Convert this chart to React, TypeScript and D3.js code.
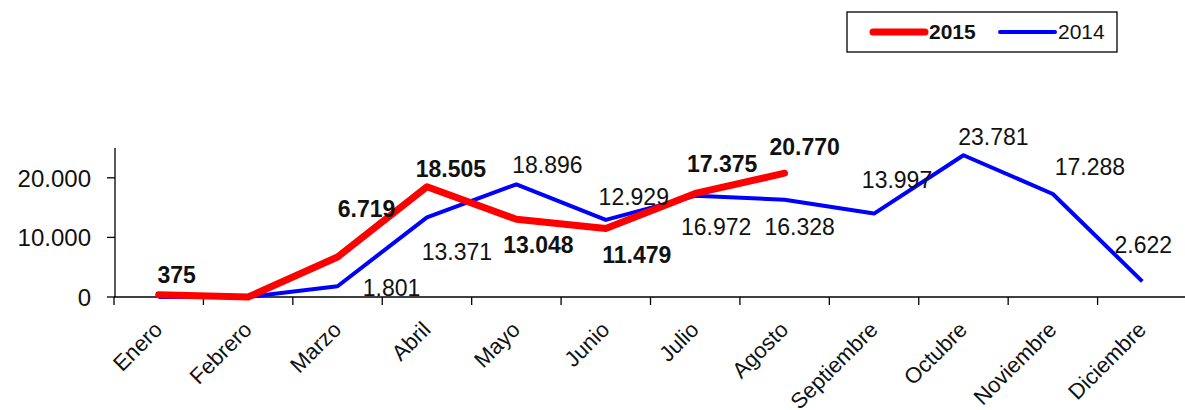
import React, { useEffect, useRef } from 'react';
import * as d3 from 'd3';

const months = ['Enero', 'Febrero', 'Marzo', 'Abril', 'Mayo', 'Junio', 'Julio', 'Agosto', 'Septiembre', 'Octubre', 'Noviembre', 'Diciembre'];
const values2015 = [375, 0, 6719, 18505, 13048, 11479, 17375, 20770];
const values2014 = [0, 0, 1801, 13371, 18896, 12929, 16972, 16328, 13997, 23781, 17288, 2622];
const yTicks = [0, 10000, 20000];

// label offsets from the point (label centre x, baseline y); null = no label
const offsets2015: ([number, number] | null)[] = [[18, -12], null, [29, -40], [24, -10], [22, 34], [31, 34], [27, -21], [20, -18]];
const offsets2014: ([number, number] | null)[] = [null, null, [54, 10], [30, 43], [31, -11], [28, -15], [21, 39], [15, 35], [23, -26], [30, -10], [37, -19], [1, -28]];

const WIDTH = 1185;
const HEIGHT = 410;
const FONT = '"Liberation Sans", Arial, sans-serif';

export default function App() {
  const svgRef = useRef<SVGSVGElement>(null);

  useEffect(() => {
    if (!svgRef.current) return;
    const svg = d3.select(svgRef.current);
    svg.selectAll('*').remove();

    const locale = d3.formatLocale({ decimal: ',', thousands: '.', grouping: [3], currency: ['', '€'] });
    const fmt = locale.format(',.0f');

    const x = d3.scaleBand<string>().domain(months).range([114, 1187]);
    const y = d3.scaleLinear().domain([0, 25000]).range([297, 148]);
    const cx = (i: number) => (x(months[i]) || 0) + x.bandwidth() / 2;

    // y axis
    const yAxis = svg.append('g').attr('transform', 'translate(115,0)');
    yAxis.append('line').attr('y1', y(25000)).attr('y2', y(0)).attr('stroke', '#000').attr('stroke-width', 1.3);
    yTicks.forEach(t => {
      yAxis.append('line').attr('x1', -8).attr('x2', 0).attr('y1', y(t)).attr('y2', y(t)).attr('stroke', '#000').attr('stroke-width', 1.3);
      yAxis.append('text')
        .attr('x', -24)
        .attr('y', y(t) + 9)
        .attr('text-anchor', 'end')
        .style('font-family', FONT)
        .style('font-size', '24px')
        .attr('fill', '#111')
        .text(fmt(t));
    });

    // x axis
    const xAxis = svg.append('g');
    xAxis.append('line').attr('x1', 114).attr('x2', WIDTH).attr('y1', y(0)).attr('y2', y(0)).attr('stroke', '#000').attr('stroke-width', 1.3);
    months.forEach((m, i) => {
      const left = x(m) || 0;
      xAxis.append('line').attr('x1', left).attr('x2', left).attr('y1', y(0)).attr('y2', y(0) + 8).attr('stroke', '#000').attr('stroke-width', 1.3);
      xAxis.append('text')
        .attr('transform', `translate(${cx(i) + 5},${331}) rotate(-45)`)
        .attr('text-anchor', 'end')
        .style('font-family', FONT)
        .style('font-size', '22px')
        .attr('fill', '#111')
        .text(m);
    });

    const line = d3.line<number>()
      .x((_, i) => cx(i))
      .y(d => y(d));

    svg.append('path')
      .datum(values2014)
      .attr('d', line)
      .attr('fill', 'none')
      .attr('stroke', '#0000FF')
      .attr('stroke-width', 4)
      .attr('stroke-linejoin', 'round');

    svg.append('path')
      .datum(values2015)
      .attr('d', line)
      .attr('fill', 'none')
      .attr('stroke', '#FF0000')
      .attr('stroke-width', 7)
      .attr('stroke-linejoin', 'round')
      .attr('stroke-linecap', 'round');

    // data labels
    const addLabels = (vals: number[], offs: ([number, number] | null)[], bold: boolean) => {
      vals.forEach((v, i) => {
        const o = offs[i];
        if (!o) return;
        svg.append('text')
          .attr('x', cx(i) + o[0])
          .attr('y', y(v) + o[1])
          .attr('text-anchor', 'middle')
          .style('font-family', FONT)
          .style('font-size', '23px')
          .style('font-weight', bold ? 'bold' : 'normal')
          .attr('fill', '#111')
          .text(fmt(v));
      });
    };
    addLabels(values2014, offsets2014, false);
    addLabels(values2015, offsets2015, true);

    // legend
    const legend = svg.append('g');
    legend.append('rect')
      .attr('x', 847).attr('y', 12).attr('width', 270).attr('height', 40)
      .attr('fill', '#fff').attr('stroke', '#000').attr('stroke-width', 1.3);
    legend.append('line').attr('x1', 873).attr('x2', 925).attr('y1', 32).attr('y2', 32)
      .attr('stroke', '#FF0000').attr('stroke-width', 7).attr('stroke-linecap', 'round');
    legend.append('text').attr('x', 929).attr('y', 39)
      .style('font-family', FONT).style('font-size', '21px').style('font-weight', 'bold').attr('fill', '#111').text('2015');
    legend.append('line').attr('x1', 1000).attr('x2', 1055).attr('y1', 32).attr('y2', 32)
      .attr('stroke', '#0000FF').attr('stroke-width', 4).attr('stroke-linecap', 'round');
    legend.append('text').attr('x', 1058).attr('y', 39)
      .style('font-family', FONT).style('font-size', '21px').attr('fill', '#111').text('2014');
  }, []);

  return (
    <svg
      ref={svgRef}
      width={WIDTH}
      height={HEIGHT}
      style={{ position: 'absolute', left: 0, top: 0, background: '#fff', display: 'block' }}
    />
  );
}
